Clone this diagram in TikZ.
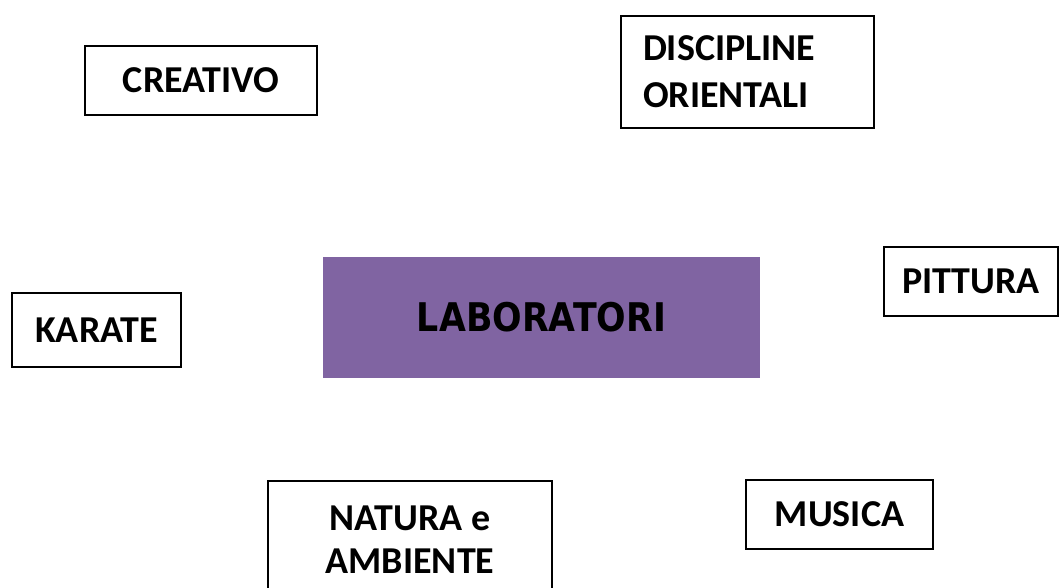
\documentclass[tikz,border=0pt]{standalone}
\usepackage{fontspec}
\setmainfont{Carlito}
\newfontfamily\labfont[FakeStretch=0.88]{DejaVu Sans}
\definecolor{labpurple}{RGB}{128,100,162}

\begin{document}
\begin{tikzpicture}[x=1pt, y=-1pt,
  every box/.style={draw, line width=2.4pt, inner sep=0pt, align=center,
    font=\fontsize{38}{43}\selectfont\bfseries},
  lab box/.style={fill=labpurple, inner sep=0pt,
    font=\labfont\fontsize{39.5}{46}\selectfont\bfseries}]

\clip (0,0) rectangle (1059,587);

\node [lab box, minimum width=437, minimum height=121] (laboratori) at (541.5,317.5) {LABORATORI};

\foreach \n/\l/\x/\y/\w/\h in {creativo/CREATIVO/201/80.5/232/69,
    pittura/PITTURA/971/281.5/174/69, karate/KARATE/96.5/330/169/74,
    musica/MUSICA/839.5/514.5/187/69, natura/{NATURA e\\AMBIENTE}/410/540/284/118}
  \node [every box/.try, minimum width=\w, minimum height=\h] (box-\n) at (\x,\y) {\l};

\node [every box/.try, align=left, text width=209pt, inner xsep=22, minimum height=112,
  font=\fontsize{38}{47}\selectfont\bfseries] (box-discipline) at (747.5,72) {DISCIPLINE\\ORIENTALI};

\end{tikzpicture}
\end{document}
